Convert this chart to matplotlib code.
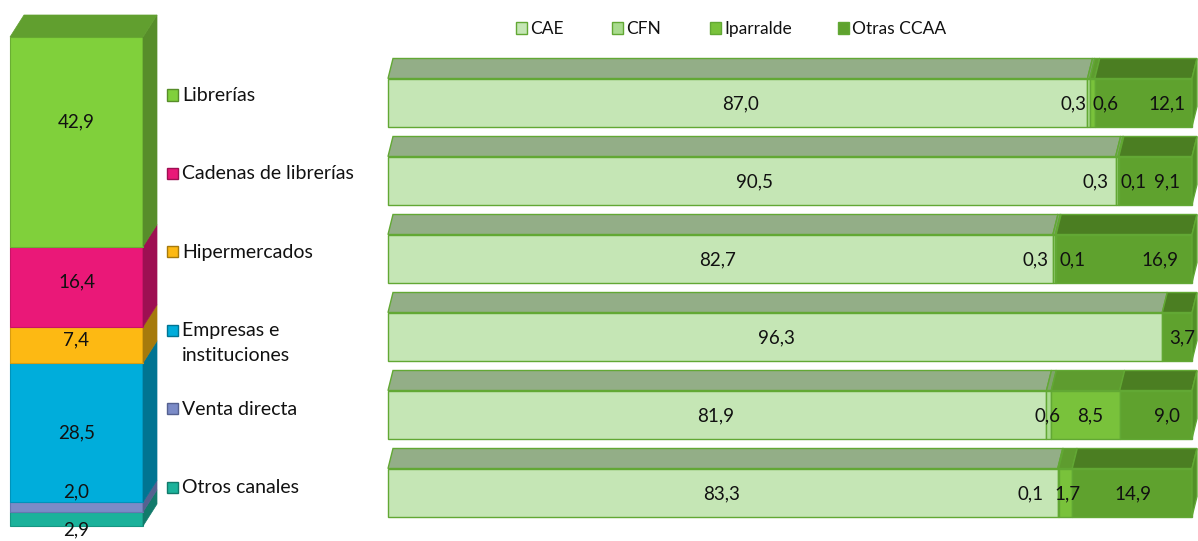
import matplotlib
matplotlib.use("Agg")
import matplotlib.pyplot as plt
from matplotlib.patches import Polygon, Rectangle

# ---------------- data ----------------
channels = ["Librerías", "Cadenas de librerías", "Hipermercados",
            "Empresas e\ninstituciones", "Venta directa", "Otros canales"]
channel_share = [42.9, 16.4, 7.4, 28.5, 2.0, 2.9]

regions = ["CAE", "CFN", "Iparralde", "Otras CCAA"]
cae = [87.0, 90.5, 82.7, 96.3, 81.9, 83.3]
cfn = [0.3, 0.3, 0.3, 0.0, 0.6, 0.1]
iparralde = [0.6, 0.1, 0.1, 0.0, 8.5, 1.7]
otras_ccaa = [12.1, 9.1, 16.9, 3.7, 9.0, 14.9]

# ---------------- styles / layout ----------------
W, H = 1198, 541
plt.rcParams["font.family"] = ["Lato", "DejaVu Sans"]
FS_NUM = 13.5
FS_CH = 14
FS_LEG = 12.5
TXT = "#111111"

ch_front = ["#80D03B", "#EA1878", "#FDB913", "#00ADDB", "#7B8BC7", "#1BB29B"]
ch_side = ["#578D2A", "#9E0F52", "#A67A0C", "#007492", "#556190", "#127A6B"]
ch_top = "#619F2F"
ch_edge = ["#6AAE33", "#C81466", "#D89C10", "#0093BA", "#6677B0", "#169683"]
# label positions (value units) for the column labels
ch_label_y = [82.7, 49.9, 38.1, 19.0, 7.0, -0.8]

reg_front = ["#C5E6B5", "#A9DB8E", "#79C23B", "#5FA22E"]
reg_top = ["#93AE87", "#7FA46C", "#5E9C2F", "#4B7E22"]
reg_side = "#528F28"
reg_edge = "#62A834"
# label x positions (percent units) for every segment label, per row
reg_label_x = [
    [43.8, 85.2, 89.3, 96.9],
    [45.6, 88.0, 92.7, 96.9],
    [41.0, 80.5, 85.2, 96.0],
    [48.3, None, None, 98.8],
    [40.8, 82.0, 87.3, 96.9],
    [41.5, 79.9, 84.5, 92.7],
]

fig = plt.figure(figsize=(W / 100, H / 100), dpi=100)


def shift(ax, x, y, dxp, dyp):
    px, py = ax.transData.transform((x, y))
    return tuple(ax.transData.inverted().transform((px + dxp, py + dyp)))


def fmt(v):
    return f"{v:.1f}".replace(".", ",")


# ---------------- left stacked column ----------------
total = sum(channel_share)
ax1 = fig.add_axes([10 / W, (H - 526) / H, 133 / W, 489 / H])
ax1.set_xlim(0, 1)
ax1.set_ylim(0, total)
ax1.axis("off")
DX1, DY1 = 14, 22

bottom = 0.0
order = list(range(len(channels)))[::-1]
tops = {}
for i in order:
    v = channel_share[i]
    ax1.bar(0.5, v, width=1, bottom=bottom, color=ch_front[i],
            edgecolor=ch_edge[i], linewidth=0.8, clip_on=False, zorder=2)
    p1 = (1, bottom)
    p2 = (1, bottom + v)
    side = [p1, p2, shift(ax1, *p2, DX1, DY1), shift(ax1, *p1, DX1, DY1)]
    ax1.add_patch(Polygon(side, closed=True, facecolor=ch_side[i],
                          edgecolor=ch_side[i], linewidth=0.5, clip_on=False, zorder=2))
    tops[i] = bottom + v
    bottom += v
# top face
itop = order[-1]
t = tops[itop]
top = [(0, t), (1, t), shift(ax1, 1, t, DX1, DY1), shift(ax1, 0, t, DX1, DY1)]
ax1.add_patch(Polygon(top, closed=True, facecolor=ch_top, edgecolor=ch_top,
                      linewidth=0.5, clip_on=False, zorder=2))
for i in range(len(channels)):
    ax1.text(0.5, ch_label_y[i], fmt(channel_share[i]), ha="center", va="center",
             fontsize=FS_NUM, color=TXT, zorder=5, clip_on=False)

# ---------------- right horizontal bars ----------------
ROW_TOP, ROW_STEP = 63.5, 78
n = len(channels)
ax2 = fig.add_axes([388 / W, (H - (ROW_TOP + n * ROW_STEP)) / H, 804 / W, n * ROW_STEP / H])
ax2.set_xlim(0, 100)
ax2.set_ylim(n - 0.5, -0.5)
ax2.axis("off")
BH = 48 / 78
DX2, DY2 = 5, 20

series = [cae, cfn, iparralde, otras_ccaa]
for r in range(n):
    left = 0.0
    last_end = 0.0
    ytop = r - BH / 2
    ybot = r + BH / 2
    for s, vals in enumerate(series):
        v = vals[r]
        if v <= 0:
            continue
        ax2.barh(r, v, height=BH, left=left, color=reg_front[s],
                 edgecolor=reg_edge, linewidth=1.0, clip_on=False, zorder=2)
        a = (left, ytop)
        b = (left + v, ytop)
        face = [a, b, shift(ax2, *b, DX2, DY2), shift(ax2, *a, DX2, DY2)]
        ax2.add_patch(Polygon(face, closed=True, facecolor=reg_top[s],
                              edgecolor=reg_edge, linewidth=1.0, clip_on=False, zorder=2))
        left += v
        last_end = left
    a = (last_end, ybot)
    b = (last_end, ytop)
    side = [a, b, shift(ax2, *b, DX2, DY2), shift(ax2, *a, DX2, DY2)]
    ax2.add_patch(Polygon(side, closed=True, facecolor=reg_side,
                          edgecolor=reg_edge, linewidth=1.0, clip_on=False, zorder=2))
    for s, vals in enumerate(series):
        lx = reg_label_x[r][s]
        if lx is None:
            continue
        ax2.text(lx, r + 0.02, fmt(vals[r]), ha="center", va="center", fontsize=FS_NUM,
                 color=TXT, zorder=5, clip_on=False)

# ---------------- left legend (channels) ----------------
LEG_Y0, LEG_STEP = 95, 78.4
for i, name in enumerate(channels):
    yc = LEG_Y0 + i * LEG_STEP
    fig.patches.append(Rectangle((167 / W, (H - yc - 5.5) / H), 11 / W, 11 / H,
                                 transform=fig.transFigure, facecolor=ch_front[i],
                                 edgecolor=ch_side[i], linewidth=1.0))
    lines = name.split("\n")
    for k, line in enumerate(lines):
        fig.text(182 / W, (H - (yc + 6 + 25 * k)) / H, line, ha="left", va="baseline",
                 fontsize=FS_CH, color=TXT)

# ---------------- top legend (regions) ----------------
leg_x = [516, 612, 710, 838]
for s, name in enumerate(regions):
    x0 = leg_x[s]
    fig.patches.append(Rectangle((x0 / W, (H - 28 - 5.5) / H), 11 / W, 11 / H,
                                 transform=fig.transFigure, facecolor=reg_front[s],
                                 edgecolor=reg_edge, linewidth=1.0))
    fig.text((x0 + 14) / W, (H - 34) / H, name, ha="left", va="baseline",
             fontsize=FS_LEG, color=TXT)

fig.savefig("out.png", dpi=100)
